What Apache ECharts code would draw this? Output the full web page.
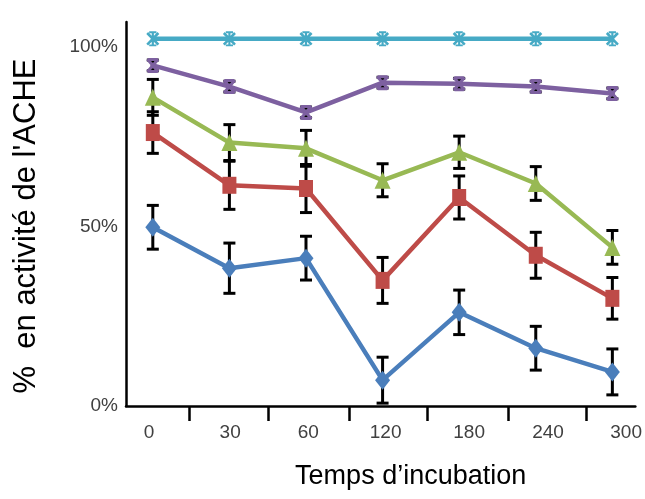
<!DOCTYPE html>
<html>
<head>
<meta charset="utf-8">
<script src="https://cdn.jsdelivr.net/npm/echarts@6/dist/echarts.min.js"></script>
<style>
html,body{margin:0;padding:0;background:#fff;}
#chart{width:645px;height:499px;}
</style>
</head>
<body>
<div id="chart"></div>
<script>
// Categories (incubation time) and tick labels
var categories = ['0', '30', '60', '120', '180', '240', '300'];
var yTickValues = [0, 50, 100];
// Label / tick positions along the x axis (in category-index units)
var xLabelPositions = [-0.05, 1.01, 2.03, 3.04, 4.13, 5.16, 6.18];
var xTickPositions = [0.48, 1.51, 2.56, 3.58, 4.64, 5.66];

// Series values (% AChE activity) and error half-widths
var blueValues   = [49.8, 38.4, 41.2, 7.2, 26.1, 16.1, 9.5];
var blueErrors   = [6.1, 7.0, 6.1, 6.4, 6.2, 6.1, 6.4];
var redValues    = [76.2, 61.5, 60.6, 35.0, 58.1, 42.0, 30.0];
var redErrors    = [5.8, 6.7, 6.7, 6.4, 6.0, 6.4, 5.8];
var greenValues  = [86.0, 73.4, 71.8, 62.9, 70.7, 62.0, 44.2];
var greenErrors  = [5.0, 5.0, 5.0, 4.6, 4.5, 4.7, 4.7];
var purpleValues = [94.9, 89.0, 81.8, 90.1, 89.8, 89.0, 87.1];
var purpleErrors = [1.5, 1.5, 1.5, 1.5, 1.5, 1.5, 1.5];
var cyanValues   = [102.3, 102.3, 102.3, 102.3, 102.3, 102.3, 102.3];

var FONT = "'Liberation Sans', Arial, sans-serif";
var asteriskPath = 'path://M8.5 0 L11.5 0 L11.5 20 L8.5 20 Z M1 3.5 L3.5 1 L19 16.5 L16.5 19 Z M16.5 1 L19 3.5 L3.5 19 L1 16.5 Z M5 0 L15 0 L15 2.5 L5 2.5 Z M5 17.5 L15 17.5 L15 20 L5 20 Z';
var xPath = 'path://M0 3 L3 0 L20 17 L17 20 Z M17 0 L20 3 L3 20 L0 17 Z M3 0 L17 0 L17 4 L3 4 Z M3 16 L17 16 L17 20 L3 20 Z M6 6 L14 6 L14 14 L6 14 Z';

function pts(vals) {
  return vals.map(function (v, i) { return [i, v]; });
}
function errData(vals, errs) {
  return vals.map(function (v, i) { return [i, v - errs[i], v + errs[i]]; });
}
function errSeries(vals, errs) {
  return {
    type: 'custom',
    z: 1,
    silent: true,
    data: errData(vals, errs),
    encode: { x: 0, y: [1, 2] },
    renderItem: function (params, api) {
      var x = api.value(0);
      var lo = api.coord([x, api.value(1)]);
      var hi = api.coord([x, api.value(2)]);
      var hw = 6;
      var st = { stroke: '#000', lineWidth: 3 };
      return {
        type: 'group',
        children: [
          { type: 'line', shape: { x1: lo[0], y1: lo[1], x2: hi[0], y2: hi[1] }, style: st },
          { type: 'line', shape: { x1: lo[0] - hw, y1: lo[1], x2: lo[0] + hw, y2: lo[1] }, style: st },
          { type: 'line', shape: { x1: hi[0] - hw, y1: hi[1], x2: hi[0] + hw, y2: hi[1] }, style: st }
        ]
      };
    }
  };
}
function lineSeries(vals, color, symbol, size) {
  return {
    type: 'line',
    z: 3,
    data: pts(vals),
    symbol: symbol,
    symbolSize: size,
    showAllSymbol: true,
    lineStyle: { color: color, width: 4.5 },
    itemStyle: { color: color, borderWidth: 0 },
    silent: true,
    animation: false
  };
}

var chart = echarts.init(document.getElementById('chart'), null, { renderer: 'canvas' });
chart.setOption({
  animation: false,
  backgroundColor: '#fff',
  grid: { left: 126, right: 7, top: 22, bottom: 93, containLabel: false },
  xAxis: {
    type: 'value',
    min: -0.35,
    max: 6.3,
    name: 'Temps d\u2019incubation',
    nameLocation: 'middle',
    nameGap: 57,
    nameTextStyle: { fontFamily: FONT, fontSize: 27, color: '#000', padding: [0, 0, 0, 60] },
    axisLine: { show: true, onZero: false, lineStyle: { color: '#000', width: 2.5 } },
    axisTick: { show: true, length: 15, customValues: xTickPositions, lineStyle: { color: '#000', width: 2.5 } },
    axisLabel: {
      customValues: xLabelPositions,
      margin: 17,
      fontFamily: FONT, fontSize: 19, color: '#404040',
      formatter: function (v) { return categories[Math.round(v)]; }
    },
    splitLine: { show: false }
  },
  yAxis: {
    type: 'value',
    min: 0,
    max: 107,
    interval: 50,
    name: "%  en activit\u00e9 de l'ACHE",
    nameLocation: 'middle',
    nameRotate: 90,
    nameGap: 84,
    nameTextStyle: { fontFamily: FONT, fontSize: 31, color: '#000', padding: [0, 24, 0, 0] },
    axisLine: { show: true, onZero: false, lineStyle: { color: '#000', width: 2.5 } },
    axisTick: { show: false },
    axisLabel: {
      customValues: yTickValues,
      margin: 8,
      fontFamily: FONT, fontSize: 19, color: '#404040',
      formatter: function (v) { return v + '%'; }
    },
    splitLine: { show: false }
  },
  series: [
    errSeries(blueValues, blueErrors),
    errSeries(redValues, redErrors),
    errSeries(greenValues, greenErrors),
    errSeries(purpleValues, purpleErrors),
    lineSeries(blueValues, '#4a7ebb', 'diamond', [15, 19]),
    lineSeries(redValues, '#be4b48', 'rect', [14, 17]),
    lineSeries(greenValues, '#98b954', 'triangle', [16, 17]),
    lineSeries(purpleValues, '#7d60a0', xPath, [13, 15]),
    lineSeries(cyanValues, '#46aac5', asteriskPath, [13, 15])
  ]
});
</script>
</body>
</html>
